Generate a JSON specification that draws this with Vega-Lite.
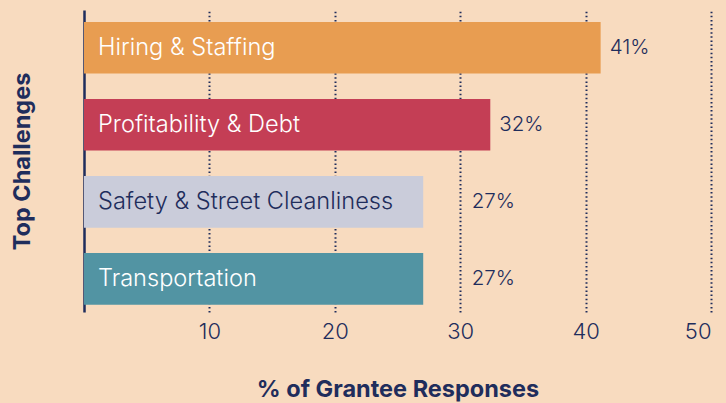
{
  "$schema": "https://vega.github.io/schema/vega-lite/v6.json",
  "width": 627,
  "height": 302,
  "autosize": {"type": "none"},
  "padding": {"left": 84, "top": 10, "right": 15, "bottom": 91},
  "background": "#F8DBBF",
  "config": {
    "view": {"stroke": null},
    "font": "Inter",
    "axis": {"labelFont": "Inter", "titleFont": "Inter"}
  },
  "data": {
    "values": [
      {"category": "Hiring & Staffing", "value": 41.2, "label": "41%"},
      {"category": "Profitability & Debt", "value": 32.4, "label": "32%"},
      {"category": "Safety & Street Cleanliness", "value": 27.05, "label": "27%"},
      {"category": "Transportation", "value": 27.05, "label": "27%"}
    ]
  },
  "encoding": {
    "y": {
      "field": "category",
      "type": "nominal",
      "sort": null,
      "scale": {"paddingInner": 0.33, "paddingOuter": 0.125, "align": 0.62},
      "axis": {
        "title": "Top Challenges",
        "titleFontSize": 23.5,
        "titleFontWeight": "bold",
        "titleColor": "#1F2D5C",
        "titlePadding": 50,
        "labels": false,
        "ticks": false,
        "domain": true,
        "domainColor": "#1F2D5C",
        "domainWidth": 2.5
      }
    }
  },
  "layer": [
    {
      "mark": {"type": "bar"},
      "encoding": {
        "x": {
          "field": "value",
          "type": "quantitative",
          "scale": {"domain": [0, 50], "nice": false, "zero": true},
          "axis": {
            "values": [10, 20, 30, 40, 50],
            "title": "% of Grantee Responses",
            "titleFontSize": 23.5,
            "titleFontWeight": "bold",
            "titleColor": "#1F2D5C",
            "titlePadding": 35,
            "labelFontSize": 22,
            "labelFontWeight": 350,
            "labelColor": "#1F2D5C",
            "labelPadding": 9,
            "domain": false,
            "ticks": false,
            "grid": true,
            "gridColor": "#1F2D5C",
            "gridWidth": 2,
            "gridDash": [1.5, 2.6],
            "gridCap": "butt"
          }
        },
        "color": {
          "field": "category",
          "type": "nominal",
          "scale": {
            "domain": ["Hiring & Staffing", "Profitability & Debt", "Safety & Street Cleanliness", "Transportation"],
            "range": ["#E89D51", "#C43E55", "#CACCDA", "#5294A3"]
          },
          "legend": null
        }
      }
    },
    {
      "mark": {"type": "text", "align": "left", "baseline": "middle", "dx": 14, "fontSize": 23.6, "fontWeight": 350},
      "encoding": {
        "x": {"datum": 0, "type": "quantitative"},
        "text": {"field": "category"},
        "color": {
          "condition": {"test": "datum.category === 'Safety & Street Cleanliness'", "value": "#1F2D5C"},
          "value": "#FFFFFF"
        }
      }
    },
    {
      "transform": [{"calculate": "max(datum.value, 30.2)", "as": "labelPos"}],
      "mark": {"type": "text", "align": "left", "baseline": "middle", "dx": 9, "fontSize": 20.5, "fontWeight": 350, "color": "#1F2D5C"},
      "encoding": {
        "x": {"field": "labelPos", "type": "quantitative"},
        "text": {"field": "label"}
      }
    }
  ]
}
